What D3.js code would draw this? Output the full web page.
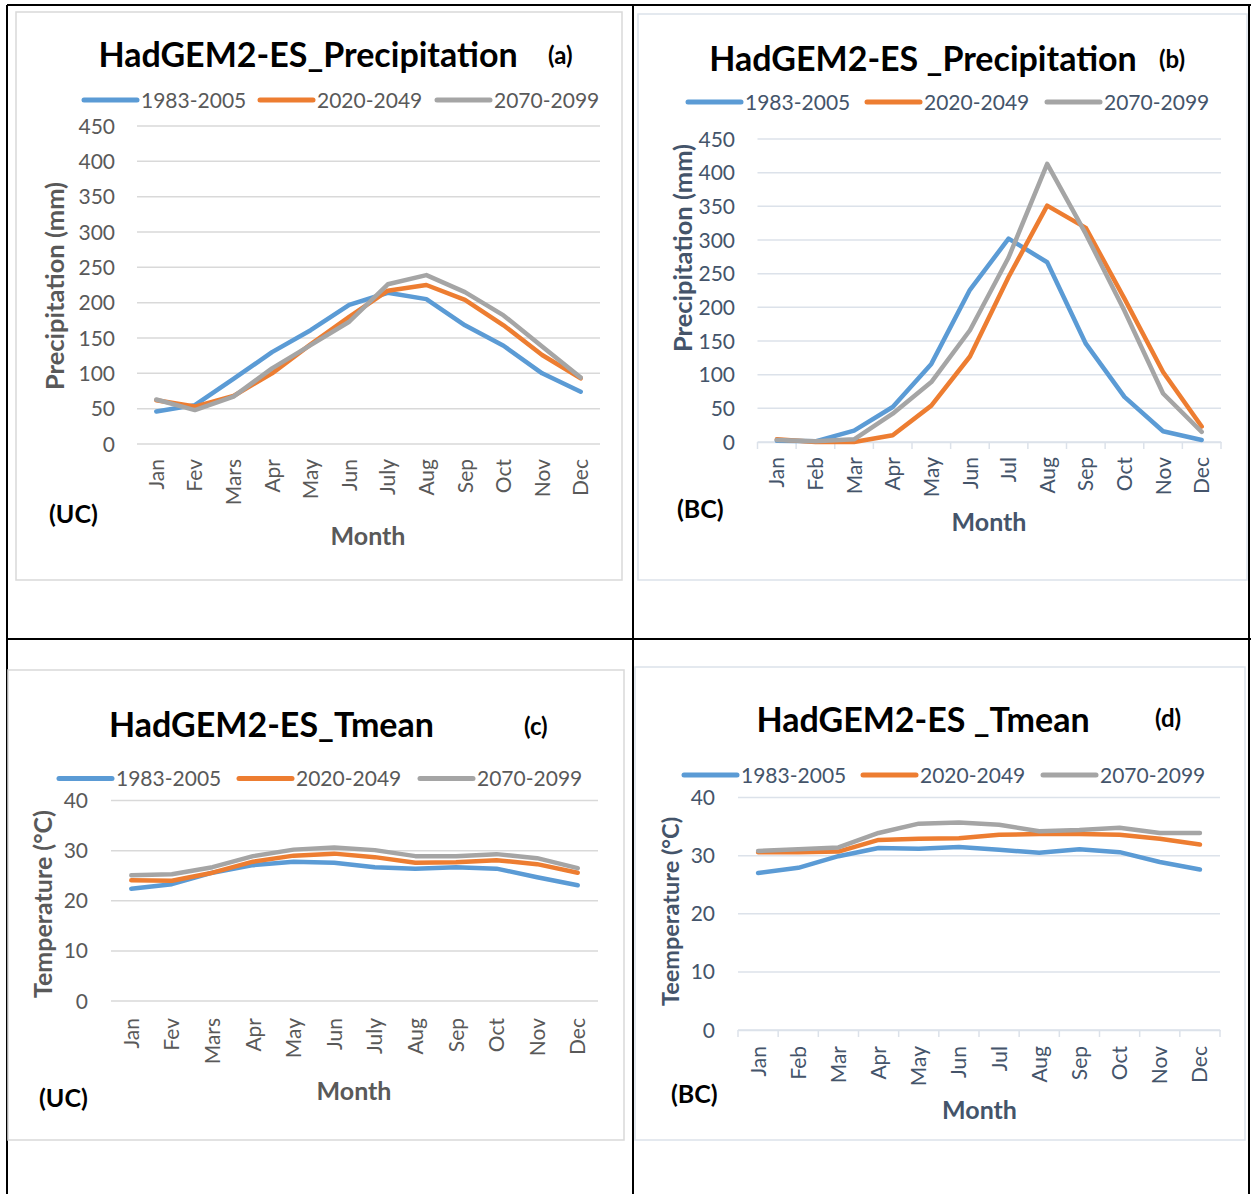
<!DOCTYPE html>
<meta charset="utf-8">
<head>
  <title>HadGEM2-ES panels</title>
</head>
<style>
body { margin: 0; background: #fff; }
text { font-family: Lato, "Open Sans", sans-serif; }
.series { fill: none; stroke-width: 4.5px; stroke-linejoin: round; stroke-linecap: round; }
</style>
<body>
<script src="https://d3js.org/d3.v7.min.js"></script>
<script>

// ---- data ----
var monthsUC = ["Jan", "Fev", "Mars", "Apr", "May", "Jun", "July", "Aug", "Sep", "Oct", "Nov", "Dec"];
var monthsBC = ["Jan", "Feb", "Mar", "Apr", "May", "Jun", "Jul", "Aug", "Sep", "Oct", "Nov", "Dec"];
var periods = ["1983-2005", "2020-2049", "2070-2099"];
var colors = ["#5B9BD5", "#ED7D31", "#A5A5A5"];

// (a) precipitation, uncorrected
var precipUC_1983 = [46, 55, 92, 130, 161, 197, 214, 205, 168, 139, 100, 74];
var precipUC_2020 = [62, 53, 68, 100, 141, 180, 217, 225, 204, 168, 126, 93];
var precipUC_2070 = [63, 48, 67, 107, 140, 173, 226, 239, 215, 182, 138, 94];

// (b) precipitation, bias corrected
var precipBC_1983 = [2, 1, 17, 52, 116, 226, 302, 267, 146, 67, 16, 3];
var precipBC_2020 = [4, 0, 0, 10, 54, 127, 245, 351, 318, 213, 104, 23];
var precipBC_2070 = [3, 1, 4, 42, 89, 166, 274, 413, 309, 195, 72, 15];

// (c) mean temperature, uncorrected
var tmeanUC_1983 = [22.4, 23.3, 25.6, 27.1, 27.8, 27.6, 26.7, 26.4, 26.7, 26.4, 24.7, 23.1];
var tmeanUC_2020 = [24.1, 24.0, 25.6, 27.8, 29.0, 29.4, 28.7, 27.6, 27.7, 28.1, 27.3, 25.6];
var tmeanUC_2070 = [25.1, 25.3, 26.7, 28.9, 30.2, 30.6, 30.1, 28.9, 28.9, 29.3, 28.5, 26.5];

// (d) mean temperature, bias corrected
var tmeanBC_1983 = [27.0, 27.9, 29.9, 31.3, 31.2, 31.5, 31.0, 30.5, 31.1, 30.6, 28.9, 27.6];
var tmeanBC_2020 = [30.6, 30.6, 30.7, 32.7, 32.9, 33.0, 33.6, 33.7, 33.7, 33.6, 32.9, 31.9];
var tmeanBC_2070 = [30.8, 31.1, 31.4, 33.9, 35.5, 35.7, 35.3, 34.2, 34.4, 34.8, 33.9, 33.9];

var precipTicks = [0, 50, 100, 150, 200, 250, 300, 350, 400, 450];
var tempTicks = [0, 10, 20, 30, 40];

var svg = d3.select("body").append("svg")
    .attr("width", 1251)
    .attr("height", 1194);

// table lines around the four figures
var tableLines = [[7, 5, 1251, 5], [7, 5, 7, 1194], [633, 5, 633, 1194], [7, 639, 1251, 639], [1249, 5, 1249, 1194]];
tableLines.forEach(function(l) {
  svg.append("line")
      .attr("x1", l[0]).attr("y1", l[1])
      .attr("x2", l[2]).attr("y2", l[3])
      .style("stroke", "#000")
      .style("stroke-width", "2px");
});

function drawPanel(p) {
  var g = svg.append("g");

  // chart frame
  g.append("rect")
      .attr("x", p.box[0]).attr("y", p.box[1])
      .attr("width", p.box[2] - p.box[0]).attr("height", p.box[3] - p.box[1])
      .style("fill", "#fff")
      .style("stroke", p.frame)
      .style("stroke-width", "1.5px");

  var x = d3.scaleBand().domain(p.months).range(p.xr);
  var y = d3.scaleLinear().domain([0, p.ticks[p.ticks.length - 1]]).range(p.yr);

  // gridlines
  g.append("g")
      .selectAll("line")
      .data(p.ticks)
      .enter().append("line")
      .attr("x1", p.xr[0]).attr("x2", p.xr[1])
      .attr("y1", function(d) { return y(d); })
      .attr("y2", function(d) { return y(d); })
      .style("stroke", p.grid)
      .style("stroke-width", "1.5px");

  // y tick labels
  g.append("g")
      .selectAll("text")
      .data(p.ticks)
      .enter().append("text")
      .attr("x", p.tickX)
      .attr("y", function(d) { return y(d); })
      .attr("dy", "0.36em")
      .attr("text-anchor", "end")
      .style("font-size", "21px")
      .style("fill", p.textColor)
      .text(function(d) { return d; });

  // x axis with tick marks (bias corrected panels only)
  if (p.axisTicks) {
    var ax = g.append("g")
        .attr("transform", "translate(0," + y(0) + ")")
        .call(d3.axisBottom(x).tickSize(0).tickFormat(""));
    ax.select(".domain").style("stroke", p.grid).style("stroke-width", "1.5px");
    var edges = x.domain().map(function(m) { return x(m); }).concat([p.xr[1]]);
    ax.selectAll(".edge")
        .data(edges)
        .enter().append("line")
        .attr("x1", function(d) { return d; }).attr("x2", function(d) { return d; })
        .attr("y1", 0).attr("y2", 7)
        .style("stroke", p.grid)
        .style("stroke-width", "1.5px");
  }

  // x category labels
  g.append("g")
      .selectAll("text")
      .data(p.months)
      .enter().append("text")
      .attr("transform", function(d) {
        return "translate(" + (x(d) + x.bandwidth() / 2) + "," + p.labelTop + ") rotate(-90)";
      })
      .attr("dy", "0.36em")
      .attr("text-anchor", "end")
      .style("font-size", "21px")
      .style("fill", p.textColor)
      .text(function(d) { return d; });

  // series
  var line = d3.line()
      .x(function(d, i) { return x(p.months[i]) + x.bandwidth() / 2; })
      .y(function(d) { return y(d); });

  p.series.forEach(function(s, i) {
    g.append("path")
        .datum(s)
        .attr("class", "series")
        .style("stroke", colors[i])
        .attr("d", line);
  });

  // legend
  periods.forEach(function(name, i) {
    var lx = p.legendX[i];
    g.append("line")
        .attr("x1", lx).attr("x2", lx + 53)
        .attr("y1", p.legendY).attr("y2", p.legendY)
        .style("stroke", colors[i])
        .style("stroke-width", "5px")
        .style("stroke-linecap", "round");
    g.append("text")
        .attr("x", lx + 57)
        .attr("y", p.legendY)
        .attr("dy", "0.36em")
        .style("font-size", "21px")
        .style("fill", p.textColor)
        .text(name);
  });

  // titles
  g.append("text")
      .attr("x", p.titleX).attr("y", p.titleY)
      .attr("text-anchor", "middle")
      .style("font-size", "34px")
      .style("font-weight", "bold")
      .style("fill", "#000")
      .text(p.title);

  g.append("text")
      .attr("x", p.tagX).attr("y", p.tagY)
      .style("font-size", "24px")
      .style("font-weight", "bold")
      .style("fill", "#000")
      .text(p.tag);

  g.append("text")
      .attr("transform", "translate(" + p.yTitle[0] + "," + p.yTitle[1] + ") rotate(-90)")
      .attr("text-anchor", "middle")
      .attr("dy", "0.36em")
      .style("font-size", p.yTitleSize + "px")
      .style("font-weight", "bold")
      .style("fill", p.textColor)
      .text(p.yLabel);

  g.append("text")
      .attr("x", p.monthX).attr("y", p.monthY)
      .attr("text-anchor", "middle")
      .style("font-size", "25px")
      .style("font-weight", "bold")
      .style("fill", p.textColor)
      .text("Month");

  g.append("text")
      .attr("x", p.caseX).attr("y", p.caseY)
      .style("font-size", "25px")
      .style("font-weight", "bold")
      .style("fill", "#000")
      .text(p.caseLabel);
}

// (a)
drawPanel({
  box: [16, 12, 622, 580], frame: "#D9D9D9", grid: "#D9D9D9", textColor: "#595959",
  months: monthsUC, ticks: precipTicks, xr: [137, 600], yr: [444, 126], tickX: 115,
  labelTop: 459, axisTicks: false,
  series: [precipUC_1983, precipUC_2020, precipUC_2070],
  legendX: [84, 260, 437], legendY: 100,
  title: "HadGEM2-ES_Precipitation", titleX: 308, titleY: 67,
  tag: "(a)", tagX: 548, tagY: 64,
  yLabel: "Precipitation (mm)", yTitle: [55, 286], yTitleSize: 25.5,
  monthX: 368, monthY: 545,
  caseLabel: "(UC)", caseX: 49, caseY: 523
});

// (b)
drawPanel({
  box: [638, 14, 1247, 580], frame: "#DCE2EA", grid: "#DCE2EA", textColor: "#44546A",
  months: monthsBC, ticks: precipTicks, xr: [757.5, 1221], yr: [442, 139], tickX: 735,
  labelTop: 457, axisTicks: true,
  series: [precipBC_1983, precipBC_2020, precipBC_2070],
  legendX: [688, 867, 1047], legendY: 102,
  title: "HadGEM2-ES _Precipitation", titleX: 923, titleY: 71,
  tag: "(b)", tagX: 1159, tagY: 68,
  yLabel: "Precipitation (mm)", yTitle: [683, 248], yTitleSize: 25.5,
  monthX: 989, monthY: 531,
  caseLabel: "(BC)", caseX: 677, caseY: 518
});

// (c)
drawPanel({
  box: [8, 670, 624, 1140], frame: "#D9D9D9", grid: "#D9D9D9", textColor: "#595959",
  months: monthsUC, ticks: tempTicks, xr: [111, 598], yr: [1001, 800.5], tickX: 88,
  labelTop: 1018, axisTicks: false,
  series: [tmeanUC_1983, tmeanUC_2020, tmeanUC_2070],
  legendX: [59, 239, 420], legendY: 778.5,
  title: "HadGEM2-ES_Tmean", titleX: 271.5, titleY: 737,
  tag: "(c)", tagX: 524, tagY: 735,
  yLabel: "Temperature (°C)", yTitle: [42.5, 904], yTitleSize: 25,
  monthX: 354, monthY: 1100,
  caseLabel: "(UC)", caseX: 39, caseY: 1107
});

// (d)
drawPanel({
  box: [635, 667, 1245, 1140], frame: "#DCE2EA", grid: "#DCE2EA", textColor: "#44546A",
  months: monthsBC, ticks: tempTicks, xr: [738, 1220], yr: [1030, 797.5], tickX: 715,
  labelTop: 1046, axisTicks: true,
  series: [tmeanBC_1983, tmeanBC_2020, tmeanBC_2070],
  legendX: [684, 863, 1043], legendY: 775,
  title: "HadGEM2-ES _Tmean", titleX: 923, titleY: 732,
  tag: "(d)", tagX: 1155, tagY: 727,
  yLabel: "Teemperature (°C)", yTitle: [670.5, 911.5], yTitleSize: 23.5,
  monthX: 979.5, monthY: 1119,
  caseLabel: "(BC)", caseX: 671, caseY: 1103
});

</script>
</body>
